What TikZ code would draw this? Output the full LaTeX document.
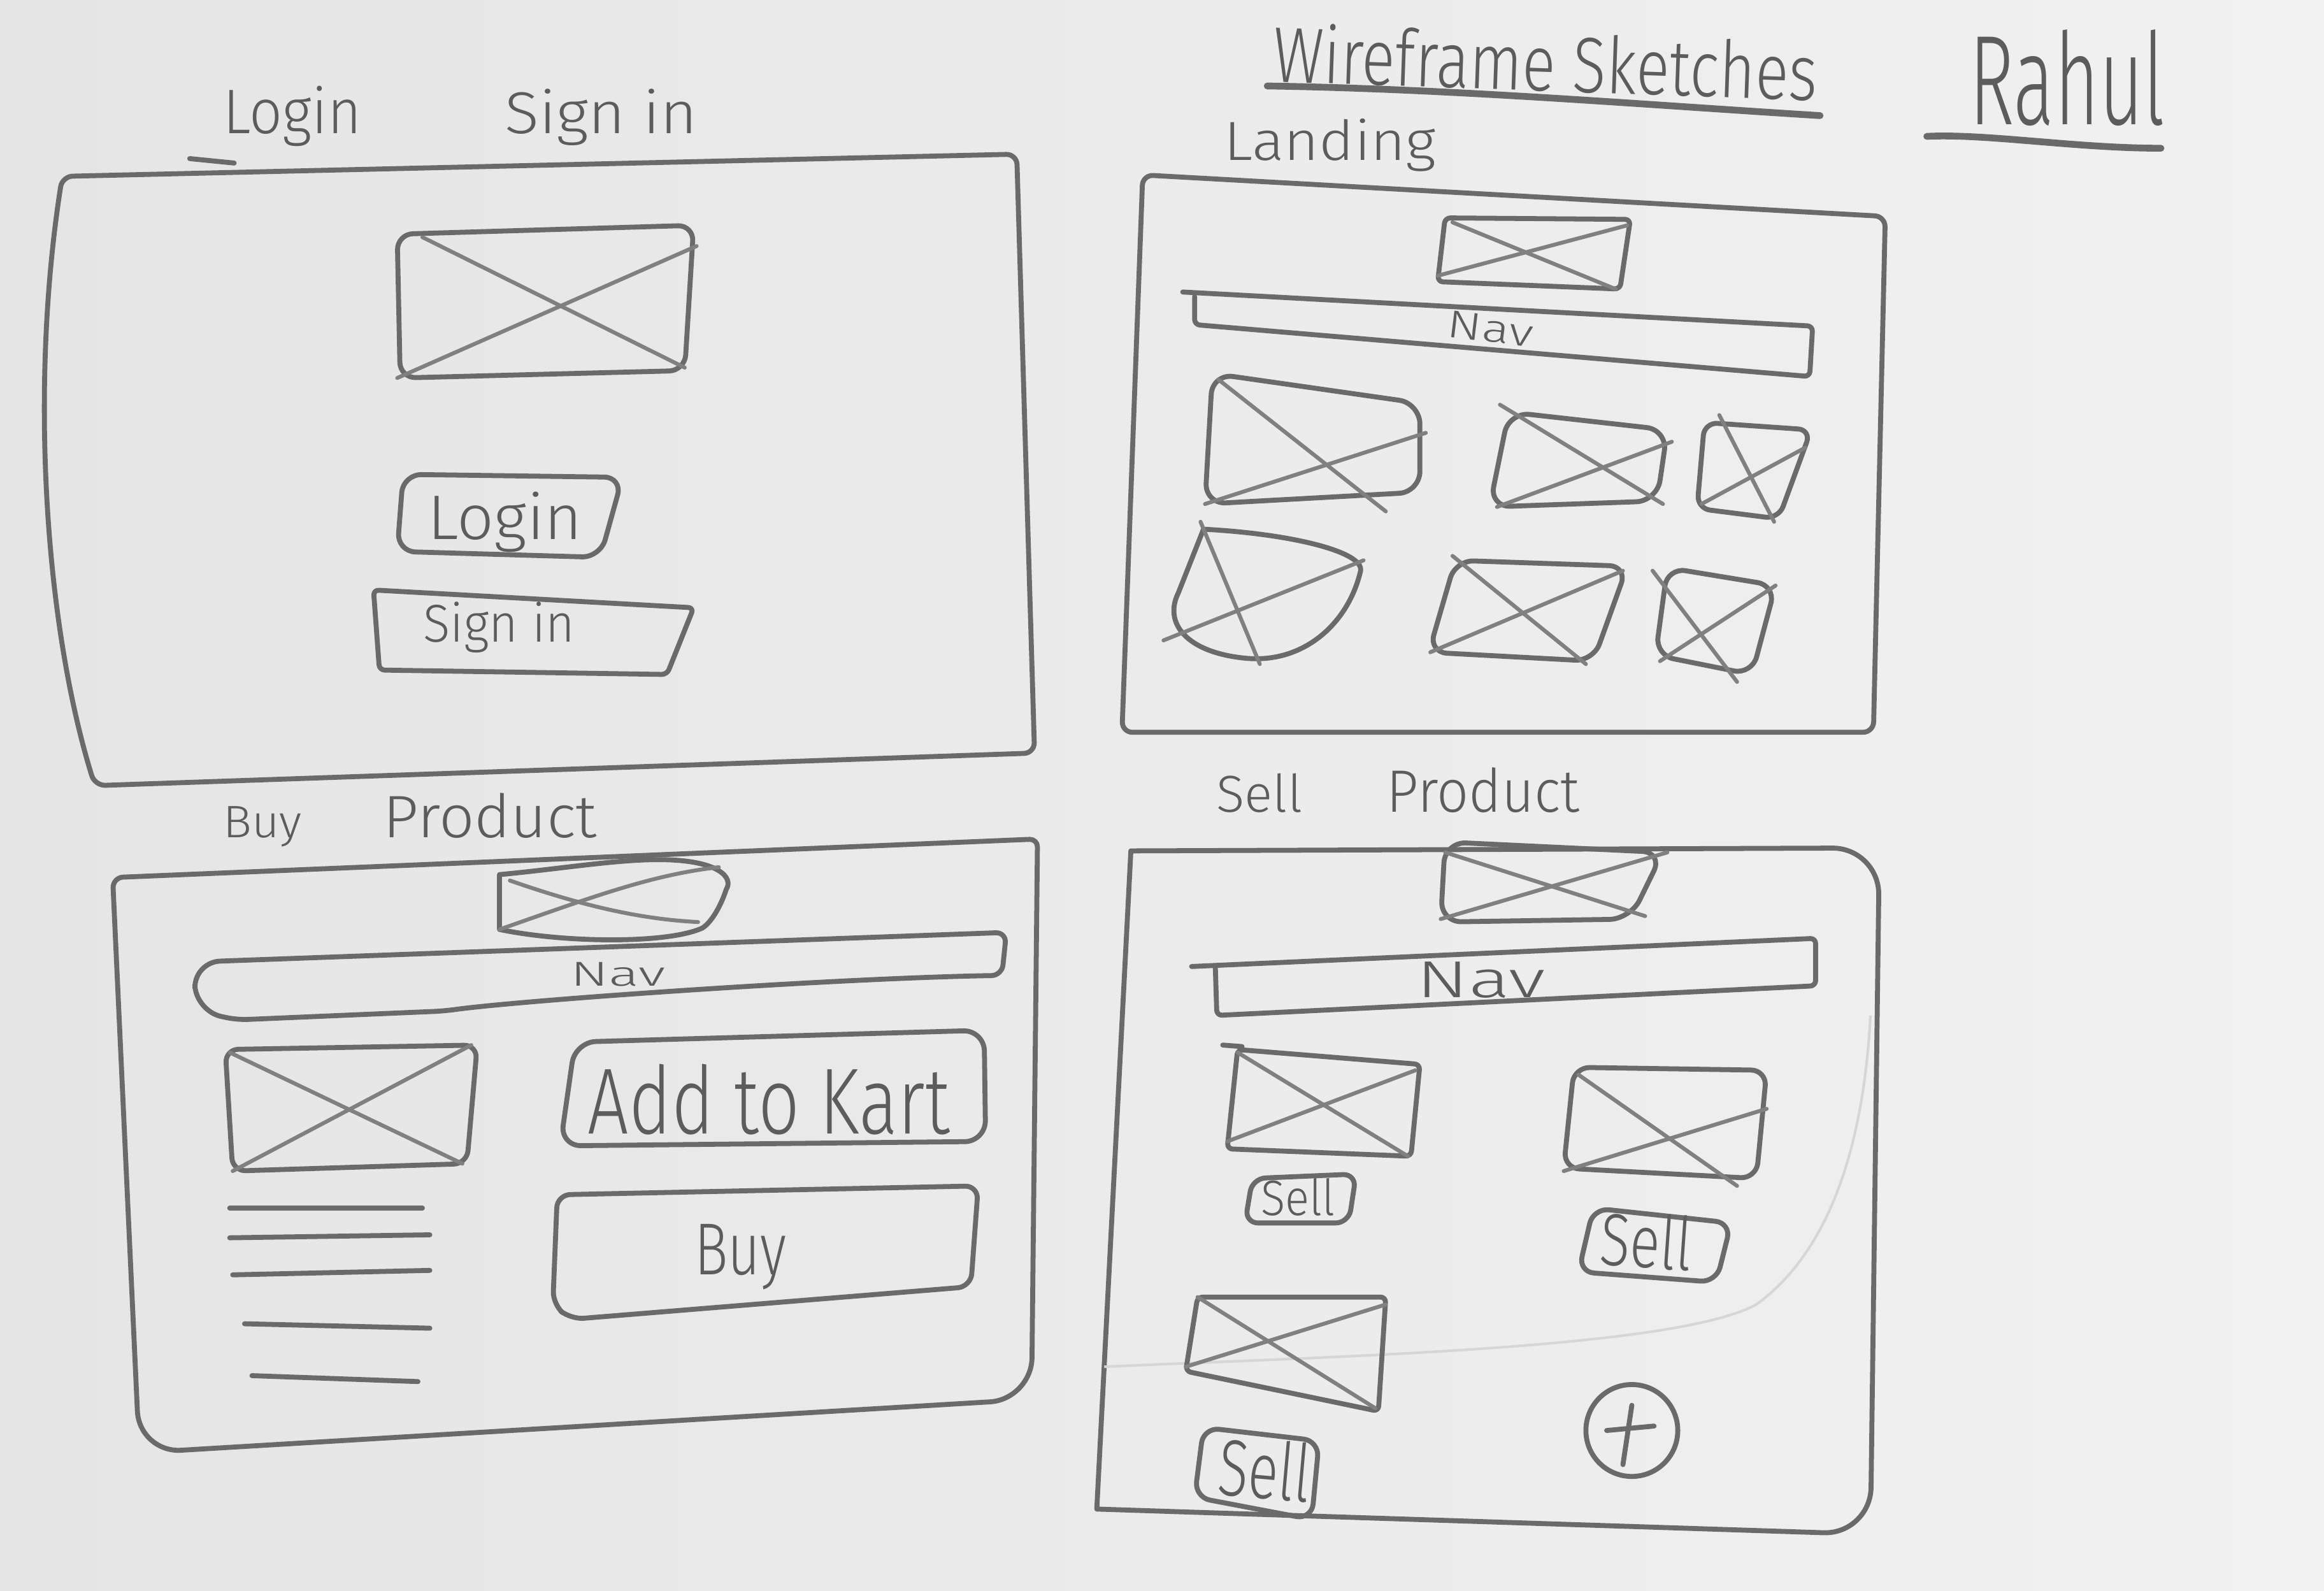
\documentclass[tikz,border=0pt]{standalone}
\usepackage{fontspec}
\setmainfont{Fira Sans Light}
\usepackage{graphicx}
\definecolor{paperL}{HTML}{E5E5E6}
\definecolor{paperR}{HTML}{F1F1F1}
\definecolor{pencil}{HTML}{6A6A6A}
\definecolor{lead}{HTML}{5C5C5C}
% hand-lettered text: box scaled to a given width and height (cm)
\newcommand\hand[3]{\resizebox{#1cm}{#2cm}{#3}}
\tikzset{
  pen/.style={draw=pencil, line width=0.95pt, line cap=round, line join=round},
  cross/.style={draw=pencil!85!white, line width=0.75pt, line cap=round},
  lettering/.style={anchor=base west, inner sep=0pt, text=lead},
  crease/.style={draw=black!16, line width=0.5pt},
}
\begin{document}
\begin{tikzpicture}[x=0.01cm,y=-0.01cm]
\shade[left color=paperL, right color=paperR] (0,0) rectangle (1568,1073);
\useasboundingbox (0,0) rectangle (1568,1073);

% ---------- heading ----------
\node[lettering, rotate=-2] (title) at (858,55) {\hand{3.67}{0.40}{Wireframe Sketches}};
\draw[pen, line width=1.3pt] (855,58) .. controls (980,60) and (1100,70) .. (1228,78);
\node[lettering] (author) at (1328,84) {\hand{1.32}{0.64}{Rahul}};
\draw[pen, line width=1.3pt] (1300,92) .. controls (1340,90) and (1400,100) .. (1458,100);

% ---------- login / sign in ----------
\node[lettering] (loginT) at (150,90) {\hand{0.93}{0.32}{Login}};
\node[lettering] (signT) at (340,90) {\hand{1.30}{0.30}{Sign in}};
\draw[pen] (128,107) -- (158,110);
\draw[pen, rounded corners=2pt] (64,530) .. controls (30,420) and (20,260) .. (42,119)
  -- (686,104) -- (698,508) -- cycle;
\draw[pen, rounded corners=3pt] (268,158) -- (468,152) -- (462,250) -- (270,255) -- cycle;
\draw[cross] (285,160) -- (462,248);
\draw[cross] (268,255) -- (470,166);
\draw[pen, rounded corners=3.5pt] (272,320) -- (420,322) -- (405,376) -- (268,372) -- cycle;
\node[lettering] (loginB) at (288,364) {\hand{1.04}{0.32}{Login}};
\draw[pen, rounded corners=1pt] (252,398) -- (468,410) -- (450,455) -- (256,452) -- cycle;
\node[lettering] (signB) at (285,433) {\hand{1.02}{0.27}{Sign in}};

% ---------- landing ----------
\node[lettering] (landT) at (825,108) {\hand{1.43}{0.28}{Landing}};
\draw[pen, rounded corners=2pt] (771,118) -- (1272,146) -- (1264,494) -- (757,494) -- cycle;
\draw[pen, rounded corners=1pt] (975,147) -- (1100,148) -- (1093,195) -- (970,190) -- cycle;
\draw[cross] (980,150) -- (1090,195);
\draw[cross] (970,186) -- (1098,152);
\draw[pen, rounded corners=1pt] (798,197) -- (1223,220) -- (1221,254) -- (806,219) -- (806,200);
\node[lettering, rotate=-7] (landNav) at (975,227) {\hand{0.58}{0.18}{Nav}};
% first row of tiles
\draw[pen, rounded corners=4pt] (818,252) -- (958,272) -- (958,332) -- (813,340) -- cycle;
\draw[cross] (822,256) -- (935,345);
\draw[cross] (813,340) -- (962,292);
\draw[pen, rounded corners=4pt] (1018,278) -- (1125,290) -- (1118,338) -- (1005,342) -- cycle;
\draw[cross] (1012,273) -- (1122,340);
\draw[cross] (1010,342) -- (1128,298);
\draw[pen, rounded corners=2.5pt] (1150,285) -- (1222,290) -- (1200,350) -- (1145,343) -- cycle;
\draw[cross] (1160,280) -- (1197,352);
\draw[cross] (1148,340) -- (1218,302);
% second row of tiles
\draw[pen] (812,357) .. controls (870,360) and (920,372) .. (918,385)
  .. controls (910,420) and (880,448) .. (840,444)
  .. controls (800,440) and (785,420) .. (795,400) -- cycle;
\draw[cross] (810,352) -- (850,448);
\draw[cross] (785,432) -- (920,378);
\draw[pen, rounded corners=3.5pt] (982,378) -- (1098,382) -- (1075,446) -- (964,440) -- cycle;
\draw[cross] (980,375) -- (1070,448);
\draw[cross] (965,440) -- (1095,385);
\draw[pen, rounded corners=3.5pt] (1125,383) -- (1198,395) -- (1182,455) -- (1117,442) -- cycle;
\draw[cross] (1115,385) -- (1172,460);
\draw[cross] (1120,446) -- (1198,395);

% ---------- buy product ----------
\node[lettering] (buyT) at (150,565) {\hand{0.53}{0.21}{Buy}};
\node[lettering] (prodT) at (258,565) {\hand{1.44}{0.30}{Product}};
\draw[pen] (76,592) [rounded corners=1.5pt] -- (700,566) [rounded corners=8pt] -- (696,944)
  -- (94,980) [rounded corners=2pt] -- cycle;
\draw[pen] (337,590) .. controls (380,586) and (420,579) .. (450,580)
  .. controls (485,581) and (495,592) .. (490,600)
  .. controls (486,612) and (480,622) .. (474,626)
  .. controls (450,637) and (380,636) .. (337,627) -- cycle;
\draw[cross] (344,594) .. controls (390,610) and (430,620) .. (471,622);
\draw[cross] (337,627) .. controls (400,605) and (440,590) .. (485,585);
\draw[pen, rounded corners=2pt] (131,649) -- (679,629) -- (676,658)
  .. controls (560,660) and (350,675) .. (300,682) -- (160,688) [rounded corners=5pt] -- (132,682) -- cycle;
\node[lettering] (buyNav) at (384,665) {\hand{0.64}{0.16}{Nav}};
\draw[pen, rounded corners=2.5pt] (152,708) -- (322,705) -- (315,785) -- (157,790) -- cycle;
\draw[cross] (155,710) -- (312,785);
\draw[cross] (157,790) -- (318,705);
\draw[pen] (155,815) -- (285,815);
\draw[pen] (155,835) -- (290,833);
\draw[pen] (157,860) -- (290,857);
\draw[pen] (165,893) -- (290,896);
\draw[pen] (170,928) -- (282,932);
\draw[pen, rounded corners=4pt] (388,703) -- (664,695) -- (665,770) -- (378,773) -- cycle;
\node[lettering] (kartB) at (396,765) {\hand{2.44}{0.47}{Add to Kart}};
\draw[pen, rounded corners=2.5pt] (376,806) -- (660,800) -- (655,868) -- (385,890) -- (373,880) -- cycle;
\node[lettering] (buyB) at (468,860) {\hand{0.62}{0.34}{Buy}};

% ---------- sell product ----------
\node[lettering] (sellT) at (820,548) {\hand{0.58}{0.26}{Sell}};
\node[lettering] (prod2T) at (935,548) {\hand{1.30}{0.30}{Product}};
\draw[pen] (740,1018) -- (763,574) [rounded corners=9pt] -- (1268,572) -- (1262,1035)
  [sharp corners] -- cycle;
% paper fold across the lower part of the page
\draw[crease] (745,922) .. controls (900,915) and (1130,910) .. (1185,880)
  .. controls (1240,840) and (1258,760) .. (1262,685);
\draw[pen, rounded corners=4pt] (975,568) -- (1122,575) -- (1100,620) -- (972,622) -- cycle;
\draw[cross] (975,575) -- (1110,618);
\draw[cross] (972,620) -- (1125,575);
\draw[pen, rounded corners=1pt] (804,652) -- (1225,633) -- (1225,665) -- (821,685) -- (820,653);
\node[lettering] (sellNav) at (955,673) {\hand{0.87}{0.24}{Nav}};
% listed items
\draw[pen, rounded corners=1pt] (835,708) -- (958,718) -- (952,780) -- (828,775) -- cycle;
\draw[pen] (825,705) -- (838,706);
\draw[cross] (835,710) -- (950,780);
\draw[cross] (828,770) -- (955,722);
\draw[pen, rounded corners=2.5pt] (845,795) -- (915,792) -- (910,825) -- (840,825) -- cycle;
\node[lettering] (sell1) at (850,820) {\hand{0.50}{0.25}{Sell}};
\draw[pen, rounded corners=3pt] (1062,720) -- (1192,722) -- (1185,795) -- (1055,788) -- cycle;
\draw[cross] (1065,725) -- (1172,800);
\draw[cross] (1055,790) -- (1192,748);
\draw[pen, rounded corners=3pt] (1075,815) -- (1168,825) -- (1158,865) -- (1065,858) -- cycle;
\node[lettering, rotate=-4] (sell2) at (1078,853) {\hand{0.62}{0.37}{Sell}};
\draw[pen, rounded corners=1pt] (808,875) -- (935,875) -- (930,952) -- (800,925) -- cycle;
\draw[cross] (808,875) -- (928,950);
\draw[cross] (800,922) -- (935,880);
\draw[pen, rounded corners=3pt] (812,963) -- (890,972) -- (885,1025) -- (806,1010) -- cycle;
\node[lettering, rotate=-5] (sell3) at (820,1008) {\hand{0.62}{0.40}{Sell}};
\draw[pen] (1101,965) circle [radius=31];
\draw[pen] (1084,965) -- (1116,962);
\draw[pen] (1101,948) -- (1095,988);
\end{tikzpicture}
\end{document}
